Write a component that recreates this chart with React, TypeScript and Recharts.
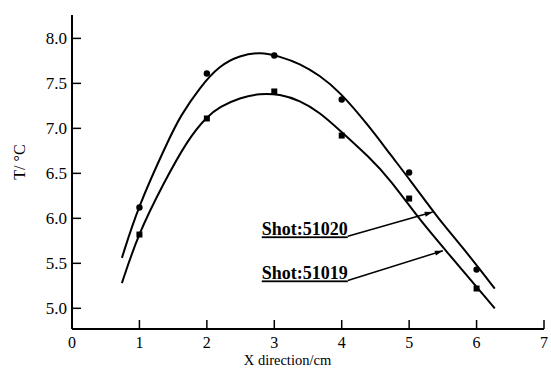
import React from 'react';
import { ComposedChart, Line, Scatter, XAxis, YAxis, ReferenceLine } from 'recharts';

const SERIF = "'Liberation Serif', 'Times New Roman', serif";

const xTicks = [0, 1, 2, 3, 4, 5, 6, 7];
const yTicks = [5.0, 5.5, 6.0, 6.5, 7.0, 7.5, 8.0];

// measured points
const shot51020Points = [
  { x: 1, y: 6.12 },
  { x: 2, y: 7.61 },
  { x: 3, y: 7.81 },
  { x: 4, y: 7.32 },
  { x: 5, y: 6.51 },
  { x: 6, y: 5.43 },
];
const shot51019Points = [
  { x: 1, y: 5.82 },
  { x: 2, y: 7.11 },
  { x: 3, y: 7.41 },
  { x: 4, y: 6.92 },
  { x: 5, y: 6.22 },
  { x: 6, y: 5.22 },
];

// fitted curves
const shot51020Fit = [
  { x: 0.74, y: 5.56 },
  { x: 0.98, y: 6.13 },
  { x: 1.43, y: 6.87 },
  { x: 1.6, y: 7.13 },
  { x: 1.9, y: 7.46 },
  { x: 2.19, y: 7.7 },
  { x: 2.49, y: 7.81 },
  { x: 2.79, y: 7.85 },
  { x: 3.08, y: 7.8 },
  { x: 3.38, y: 7.72 },
  { x: 3.67, y: 7.59 },
  { x: 3.97, y: 7.41 },
  { x: 4.41, y: 7.02 },
  { x: 4.71, y: 6.72 },
  { x: 5.01, y: 6.43 },
  { x: 5.45, y: 5.98 },
  { x: 5.75, y: 5.72 },
  { x: 6.27, y: 5.22 },
];
const shot51019Fit = [
  { x: 0.74, y: 5.28 },
  { x: 0.98, y: 5.82 },
  { x: 1.35, y: 6.38 },
  { x: 1.72, y: 6.88 },
  { x: 2.0, y: 7.13 },
  { x: 2.19, y: 7.24 },
  { x: 2.49, y: 7.34 },
  { x: 2.79, y: 7.39 },
  { x: 3.08, y: 7.38 },
  { x: 3.38, y: 7.31 },
  { x: 3.67, y: 7.18 },
  { x: 3.97, y: 6.98 },
  { x: 4.41, y: 6.68 },
  { x: 4.71, y: 6.44 },
  { x: 5.16, y: 5.98 },
  { x: 5.5, y: 5.68 },
  { x: 6.27, y: 5.0 },
];

const label51020 = 'Shot:51020';
const label51019 = 'Shot:51019';
const arrow51020 = [{ x: 4.09, y: 5.8 }, { x: 5.35, y: 6.07 }];
const arrow51019 = [{ x: 4.09, y: 5.31 }, { x: 5.5, y: 5.64 }];

const XTick = (props: any) => {
  const { x, y, payload } = props;
  return (
    <g>
      <line x1={x} x2={x} y1={y} y2={y - 9} stroke="#000" strokeWidth={1.5} />
      <text x={x} y={y + 19} textAnchor="middle" fontSize={16} fontFamily={SERIF} fill="#000">
        {payload.value}
      </text>
    </g>
  );
};

const YTick = (props: any) => {
  const { x, y, payload } = props;
  return (
    <g>
      <line x1={x} x2={x + 9} y1={y} y2={y} stroke="#000" strokeWidth={1.5} />
      <text x={x - 5} y={y + 6} textAnchor="end" fontSize={17} fontFamily={SERIF} fill="#000">
        {Number(payload.value).toFixed(1)}
      </text>
    </g>
  );
};

const makeArrowShape = (label: string) => (props: any) => {
  const { x1, y1, x2, y2 } = props;
  const ang = Math.atan2(y2 - y1, x2 - x1);
  const L = 8;
  const W = 2.5;
  const bx = x2 - L * Math.cos(ang);
  const by = y2 - L * Math.sin(ang);
  const px = -Math.sin(ang) * W;
  const py = Math.cos(ang) * W;
  return (
    <g>
      <text
        x={x1}
        y={y1 - 1}
        textAnchor="end"
        fontSize={18}
        fontWeight="bold"
        fontFamily={SERIF}
        fill="#000"
        style={{ textDecoration: 'underline' }}
      >
        {label}
      </text>
      <line x1={x1} y1={y1} x2={x2} y2={y2} stroke="#000" strokeWidth={1.5} />
      <polygon points={`${x2},${y2} ${bx + px},${by + py} ${bx - px},${by - py}`} fill="#000" />
    </g>
  );
};

const CircleDot = (props: any) => {
  const { cx, cy } = props;
  return <circle cx={cx} cy={cy} r={3.2} fill="#000" />;
};
const SquareDot = (props: any) => {
  const { cx, cy } = props;
  return <rect x={cx - 3} y={cy - 3} width={6} height={6} fill="#000" />;
};

export default function App() {
  return (
    <div style={{ position: 'absolute', left: 0, top: 0, background: '#fff' }}>
      <ComposedChart width={551} height={368} margin={{ top: 15, right: 7, bottom: 0, left: 0 }}>
        <XAxis
          type="number"
          dataKey="x"
          domain={[0, 7]}
          ticks={xTicks}
          allowDataOverflow
          height={39}
          tickSize={0}
          tickMargin={0}
          tickLine={false}
          tick={<XTick />}
          axisLine={{ stroke: '#000', strokeWidth: 2 }}
          label={() => (
            <text x={287.5} y={364.5} textAnchor="middle" fontSize={14.5} fontFamily={SERIF} fill="#000">
              X direction/cm
            </text>
          )}
        />
        <YAxis
          type="number"
          dataKey="y"
          domain={[4.77, 8.26]}
          ticks={yTicks}
          allowDataOverflow
          width={72}
          tickSize={0}
          tickMargin={0}
          tickLine={false}
          tick={<YTick />}
          axisLine={{ stroke: '#000', strokeWidth: 2 }}
          label={() => (
            <text
              x={19}
              y={162}
              transform="rotate(-90 19 162)"
              textAnchor="middle"
              dominantBaseline="central"
              fontSize={16}
              fontFamily={SERIF}
              fill="#000"
            >
              T/ °C
            </text>
          )}
        />
        <Line
          data={shot51020Fit}
          dataKey="y"
          type="basis"
          stroke="#000"
          strokeWidth={2}
          dot={false}
          activeDot={false}
          isAnimationActive={false}
        />
        <Line
          data={shot51019Fit}
          dataKey="y"
          type="basis"
          stroke="#000"
          strokeWidth={2}
          dot={false}
          activeDot={false}
          isAnimationActive={false}
        />
        <Scatter data={shot51020Points} dataKey="y" shape={<CircleDot />} isAnimationActive={false} />
        <Scatter data={shot51019Points} dataKey="y" shape={<SquareDot />} isAnimationActive={false} />
        <ReferenceLine segment={arrow51020} shape={makeArrowShape(label51020)} ifOverflow="visible" />
        <ReferenceLine segment={arrow51019} shape={makeArrowShape(label51019)} ifOverflow="visible" />
      </ComposedChart>
    </div>
  );
}
